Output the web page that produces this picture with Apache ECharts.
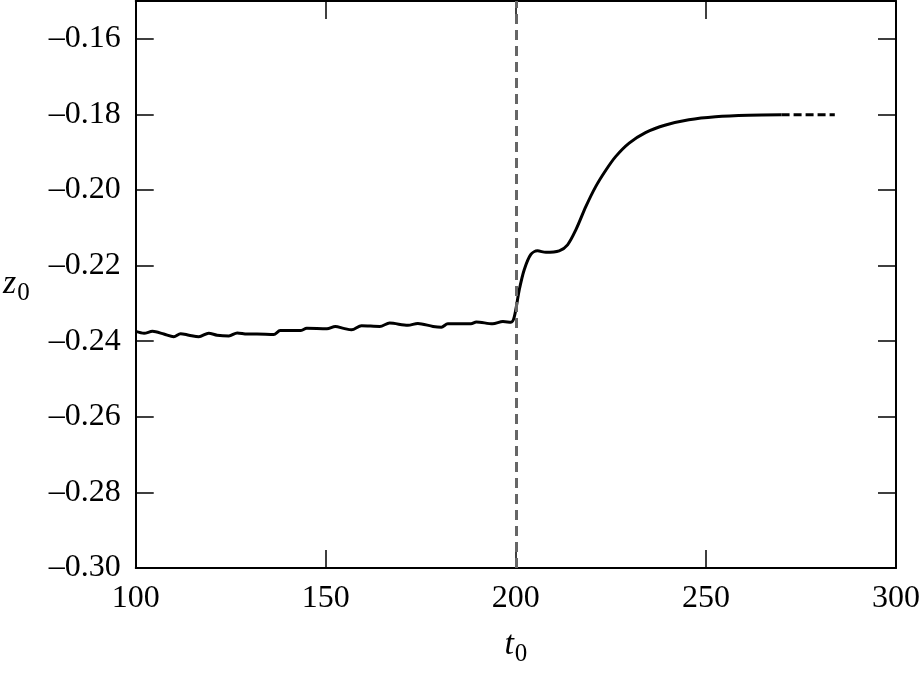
<!DOCTYPE html>
<html>
<head>
<meta charset="utf-8">
<script src="https://cdn.jsdelivr.net/npm/echarts@6/dist/echarts.min.js"></script>
<style>
  html, body { margin: 0; padding: 0; background: #fff; }
  #chart { width: 923px; height: 678px; }
</style>
</head>
<body>
<div id="chart"></div>
<script>
// z0(t0)
const tMain = [100, 102.2, 104.4, 107.4, 110, 111.8, 114, 116.6, 119.2, 121.4, 124.5, 126.7, 129.3, 131.9,
  136.3, 138, 143.3, 145, 150.3, 152.5, 154.7, 156.8, 159.4, 164.2, 166.8, 171.6, 174.2, 178.2, 180.4,
  182.1, 188.2, 189.6, 193.9, 196.6, 198.7, 199.6, 200.9, 202.2, 203.9, 205.7, 207.9, 211.4, 213.6,
  215.8, 218.4, 221.0, 223.7, 226.3, 229.8, 234.1, 239.4, 245.5, 252.5, 261.2, 269.9]
const zMain = [-0.2374, -0.2379, -0.2374, -0.2381, -0.2388, -0.2380, -0.2384, -0.2388, -0.2379, -0.2384,
  -0.2386, -0.2378, -0.2381, -0.2381, -0.2382, -0.2372, -0.2372, -0.2366, -0.2367, -0.2361, -0.2366,
  -0.2370, -0.2359, -0.2361, -0.2352, -0.2358, -0.2353, -0.2361, -0.2363, -0.2354, -0.2354, -0.2349,
  -0.2354, -0.2348, -0.2350, -0.2335, -0.2264, -0.2211, -0.2171, -0.2161, -0.2165, -0.2161, -0.2145,
  -0.2105, -0.2044, -0.1991, -0.1947, -0.1911, -0.1876, -0.1848, -0.1828, -0.1814, -0.1806, -0.1802,
  -0.1801]
// dashed continuation
const tTail = [269.9, 283.9]
const zTail = [-0.1801, -0.1801]
const tMark = 200

const font = 'Liberation Serif, Times New Roman, serif'
const pairs = (xs, ys) => xs.map((x, i) => [x, ys[i]])

const tickStyle = { inside: true, length: 18, lineStyle: { color: '#000', width: 1.5 } }
const lineStyle = { lineStyle: { color: '#000', width: 2 } }
const nameRich = {
  i: { fontFamily: font, fontStyle: 'italic', fontSize: 34, color: '#000' },
  s: { fontFamily: font, fontSize: 25, color: '#000', padding: [18, 0, 0, 1] }
}

const chart = echarts.init(document.getElementById('chart'))
chart.setOption({
  animation: false,
  grid: { left: 135, right: 24, top: 1, bottom: 110 },
  xAxis: [
    {
      type: 'value', min: 100, max: 300, interval: 50,
      axisLine: lineStyle, axisTick: tickStyle, splitLine: { show: false },
      axisLabel: { margin: 15, color: '#000', fontFamily: font, fontSize: 32 },
      name: '{i|t}{s|0}', nameLocation: 'middle', nameGap: 56,
      nameTextStyle: { rich: nameRich }
    },
    {
      type: 'value', position: 'top', min: 100, max: 300, interval: 50,
      axisLine: lineStyle, axisTick: tickStyle, axisLabel: { show: false }, splitLine: { show: false }
    }
  ],
  yAxis: [
    {
      type: 'value', min: -0.30, max: -0.15, interval: 0.02,
      axisLine: lineStyle, axisTick: tickStyle, splitLine: { show: false },
      axisLabel: {
        margin: 15, color: '#000', fontFamily: font, fontSize: 32, showMaxLabel: false,
        formatter: v => (v < 0 ? '–' : '') + Math.abs(v).toFixed(2)
      },
      name: '{i|z}{s|0}', nameLocation: 'middle', nameRotate: 0, nameGap: 106,
      nameTextStyle: { rich: nameRich }
    },
    {
      type: 'value', position: 'right', min: -0.30, max: -0.15, interval: 0.02,
      axisLine: lineStyle, axisTick: tickStyle, axisLabel: { show: false }, splitLine: { show: false }
    }
  ],
  series: [
    {
      type: 'line', data: pairs(tMain, zMain), smooth: 0.3, showSymbol: false,
      lineStyle: { color: '#000', width: 3 },
      markLine: {
        silent: true, symbol: 'none', label: { show: false },
        lineStyle: { color: '#666', width: 3, type: [10, 6] },
        data: [{ xAxis: tMark }]
      }
    },
    {
      type: 'line', data: pairs(tTail, zTail), showSymbol: false,
      lineStyle: { color: '#000', width: 3, type: [8, 4] }
    }
  ]
})
</script>
</body>
</html>
